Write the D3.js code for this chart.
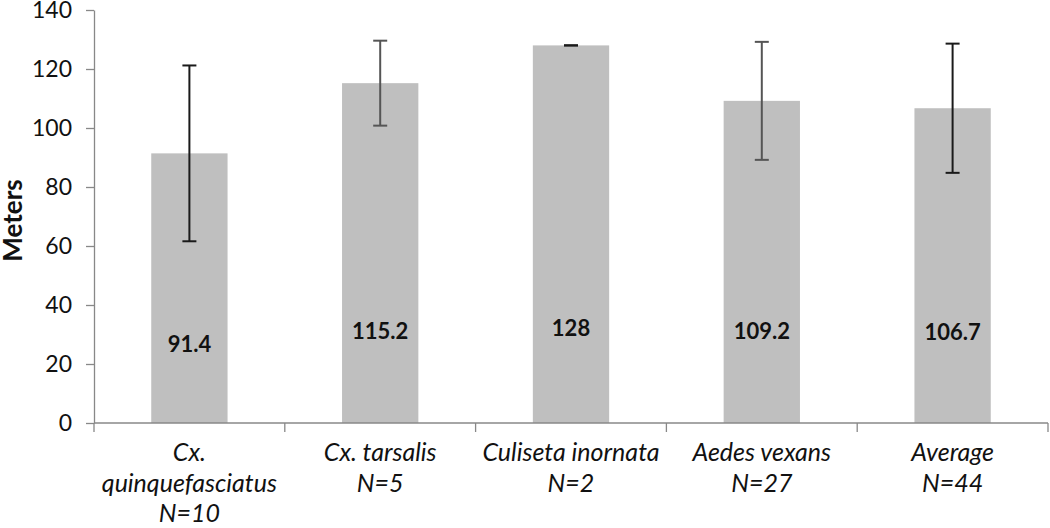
<!DOCTYPE html>
<meta charset="utf-8">
<script src="https://d3js.org/d3.v7.min.js"></script>
<style>
  body { margin: 0; background: #fff; }
  svg text { font-family: Lato, "Open Sans", sans-serif; fill: #111; }
</style>
<div id="my_dataviz"></div>
<script>

  // data
  var species = ["Cx. quinquefasciatus", "Cx. tarsalis", "Culiseta inornata", "Aedes vexans", "Average"];
  var sampleN = [10, 5, 2, 27, 44];
  var meters = [91.4, 115.2, 128, 109.2, 106.7];
  var errors = [29.8, 14.4, 0, 20, 21.9];
  var labelAt = [24, 28.5, 29.5, 28.5, 28];   // where each value label sits, in meters
  var yTicks = [0, 20, 40, 60, 80, 100, 120, 140];

  // category label lines (first category wraps)
  var labelLines = [
    ["Cx.", "quinquefasciatus", "N=" + sampleN[0]],
    ["Cx. tarsalis", "N=" + sampleN[1]],
    ["Culiseta inornata", "N=" + sampleN[2]],
    ["Aedes vexans", "N=" + sampleN[3]],
    ["Average", "N=" + sampleN[4]]
  ];

  var margin = { top: 10, right: 2, bottom: 105, left: 94 },
    width = 1050 - margin.left - margin.right,
    height = 528 - margin.top - margin.bottom;

  var svg = d3.select("#my_dataviz")
    .append("svg")
    .attr("width", 1050)
    .attr("height", 528)
    .append("g")
    .attr("transform", "translate(" + margin.left + "," + margin.top + ")");

  var x = d3.scaleBand()
    .domain(species)
    .range([0, width])
    .paddingInner(0.6)
    .paddingOuter(0.3);

  var y = d3.scaleLinear()
    .domain([0, 140])
    .range([height, 0]);

  // y axis
  var yAxis = svg.append("g")
    .call(d3.axisLeft(y).tickValues(yTicks).tickSize(8).tickPadding(14).tickSizeOuter(0));
  yAxis.selectAll("line, path").attr("stroke", "#888").attr("stroke-width", 1.3);
  yAxis.selectAll("text").style("font-size", "23px").attr("fill", "#111");

  // bars
  svg.append("g")
    .selectAll("rect")
    .data(meters)
    .enter()
    .append("rect")
    .attr("x", function (d, i) { return x(species[i]); })
    .attr("y", function (d) { return y(d); })
    .attr("width", x.bandwidth())
    .attr("height", function (d) { return height - y(d); })
    .attr("fill", "#bfbfbf");

  // error bars
  var errColor = ["#1a1a1a", "#555", "#1a1a1a", "#555", "#1a1a1a"];
  var eb = svg.append("g")
    .selectAll("g")
    .data(meters)
    .enter()
    .append("g")
    .attr("stroke", function (d, i) { return errColor[i]; })
    .attr("stroke-width", 2);
  eb.append("line")
    .attr("x1", function (d, i) { return x(species[i]) + x.bandwidth() / 2; })
    .attr("x2", function (d, i) { return x(species[i]) + x.bandwidth() / 2; })
    .attr("y1", function (d, i) { return y(d + errors[i]); })
    .attr("y2", function (d, i) { return y(d - errors[i]); });
  eb.append("line")
    .attr("x1", function (d, i) { return x(species[i]) + x.bandwidth() / 2 - 7; })
    .attr("x2", function (d, i) { return x(species[i]) + x.bandwidth() / 2 + 7; })
    .attr("y1", function (d, i) { return y(d + errors[i]); })
    .attr("y2", function (d, i) { return y(d + errors[i]); });
  eb.append("line")
    .attr("x1", function (d, i) { return x(species[i]) + x.bandwidth() / 2 - 7; })
    .attr("x2", function (d, i) { return x(species[i]) + x.bandwidth() / 2 + 7; })
    .attr("y1", function (d, i) { return y(d - errors[i]); })
    .attr("y2", function (d, i) { return y(d - errors[i]); });

  // value labels inside bars
  svg.append("g")
    .selectAll("text")
    .data(meters)
    .enter()
    .append("text")
    .attr("x", function (d, i) { return x(species[i]) + x.bandwidth() / 2; })
    .attr("y", function (d, i) { return y(labelAt[i]); })
    .attr("text-anchor", "middle")
    .style("font-size", "22px")
    .style("font-weight", "bold")
    .text(function (d) { return d; });

  // x axis: baseline with ticks between categories
  var step = x.step();
  var xg = svg.append("g").attr("transform", "translate(0," + height + ")");
  xg.append("line")
    .attr("x1", 0).attr("x2", width)
    .attr("stroke", "#888").attr("stroke-width", 1.3);
  xg.selectAll(".sep")
    .data(d3.range(species.length + 1))
    .enter()
    .append("line")
    .attr("class", "sep")
    .attr("x1", function (d) { return d * step; })
    .attr("x2", function (d) { return d * step; })
    .attr("y1", 0).attr("y2", 9)
    .attr("stroke", "#888").attr("stroke-width", 1.3);

  // category labels
  var cat = xg.selectAll(".cat")
    .data(species)
    .enter()
    .append("text")
    .attr("class", "cat")
    .attr("text-anchor", "middle")
    .style("font-size", "25px")
    .style("font-style", "italic")
    .attr("fill", "#222");
  cat.each(function (d, i) {
    var t = d3.select(this);
    labelLines[i].forEach(function (line, j) {
      t.append("tspan")
        .attr("x", x(d) + x.bandwidth() / 2)
        .attr("y", 38 + j * 30.5)
        .text(line);
    });
  });

  // y axis title
  svg.append("text")
    .attr("transform", "rotate(-90)")
    .attr("x", -height / 2 - 4)
    .attr("y", -margin.left + 22)
    .attr("text-anchor", "middle")
    .style("font-size", "26px")
    .style("font-weight", "bold")
    .text("Meters");

</script>
